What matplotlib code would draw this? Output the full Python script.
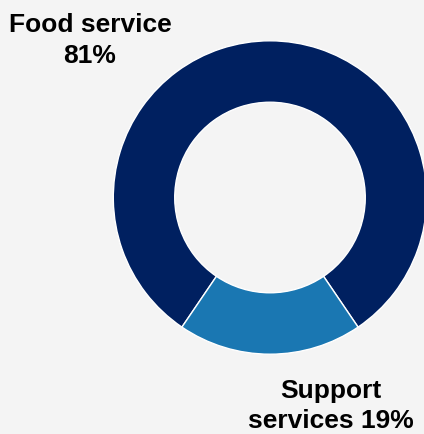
import matplotlib
matplotlib.use("Agg")
import matplotlib.pyplot as plt

# Revenue split by segment
segments = ["Food service", "Support services"]
shares = [81, 19]
colors = ["#002060", "#1a77b2"]

W, H = 424, 434
bg = "#f4f4f4"

fig = plt.figure(figsize=(W / 100, H / 100), dpi=100, facecolor=bg)

# Donut centred at (270, 197.5) px with outer radius ~157 px
cx, cy, R = 270.0, 197.5, 156.7
ax = fig.add_axes([(cx - R) / W, (H - cy - R) / H, 2 * R / W, 2 * R / H])
ax.set_facecolor(bg)

# Start angle chosen so the smaller slice sits centred at the bottom
start = 270 - 360 * shares[1] / 100 / 2 - 360 * shares[0] / 100
ax.pie(shares, colors=colors, startangle=start, counterclock=True, radius=1.0,
       wedgeprops=dict(width=0.392, edgecolor="white", linewidth=1.0))
ax.set_xlim(-1, 1)
ax.set_ylim(-1, 1)
ax.set_aspect("equal")
ax.axis("off")

font = dict(family=["Liberation Sans", "DejaVu Sans"], fontsize=19,
            fontweight="bold", color="#000000", ha="center", va="baseline")

def label(x, y, s):
    fig.text(x / W, 1 - y / H, s, **font)

label(90, 32, "Food service")
label(90, 63, f"{shares[0]}%")
label(331, 398, "Support")
label(331, 428, f"services {shares[1]}%")

fig.savefig("out.png", dpi=100, facecolor=bg)
